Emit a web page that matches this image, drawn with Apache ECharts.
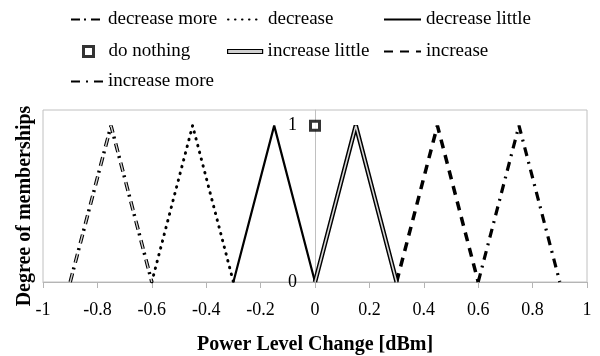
<!DOCTYPE html>
<html><head><meta charset="utf-8">
<script src="https://cdn.jsdelivr.net/npm/echarts@6/dist/echarts.min.js"></script>
<style>html,body{margin:0;padding:0;background:#fff}#c{width:600px;height:356px}</style>
</head><body><div id="c"></div>
<script>
// Data
const decreaseMoreX = [-0.9, -0.75, -0.6];
const decreaseMoreY = [0, 1, 0];
const decreaseX = [-0.6, -0.45, -0.3];
const decreaseY = [0, 1, 0];
const decreaseLittleX = [-0.3, -0.15, 0];
const decreaseLittleY = [0, 1, 0];
const doNothingX = [0];
const doNothingY = [1];
const increaseLittleX = [0, 0.15, 0.3];
const increaseLittleY = [0, 1, 0];
const increaseX = [0.3, 0.45, 0.6];
const increaseY = [0, 1, 0];
const increaseMoreX = [0.6, 0.75, 0.9];
const increaseMoreY = [0, 1, 0];
const yTickLabels = ['0', '1'];

const zip = (xs, ys) => xs.map((x, i) => [x, ys[i]]);
const FONT = 'Liberation Serif';

const chart = echarts.init(document.getElementById('c'), null, {renderer: 'canvas'});

function line(name, xs, ys, ls, z) {
  return {type: 'line', name: name, data: zip(xs, ys), symbol: 'none', z: z || 2,
    lineStyle: Object.assign({color: '#000', width: 2}, ls), itemStyle: {color: ls.color || '#000'},
    silent: true, animation: false};
}

// [name, left, top, itemWidth]
const legendPos = [
  ['decrease more', 65, 5, 32], ['decrease', 222, 5, 35], ['decrease little', 378, 5, 37],
  ['do nothing', 77, 37, 10], ['increase little', 222, 37, 35], ['increase', 378, 37, 37],
  ['increase more', 65, 67, 32]
];

const GRID_W = 600 - 43 - 13;

const option = {
  animation: false,
  grid: {left: 43, right: 13, top: 110, bottom: 73, show: true, borderColor: '#c0c0c0', borderWidth: 1},
  legend: legendPos.map(p => {
    const name = p[0];
    const isMarker = name === 'do nothing';
    const isDouble = name === 'increase little';
    const lg = {
      data: [isDouble ? {name: name, icon: 'rect'} : name], left: p[1], top: p[2], itemWidth: p[3],
      itemHeight: isMarker ? 10 : 12,
      itemStyle: isMarker ? {color: '#fff', borderColor: '#000', borderWidth: 3}
                          : {color: 'rgba(0,0,0,0)', borderWidth: 0},
      textStyle: {fontFamily: FONT, fontSize: 19, color: '#000', padding: isMarker ? [0, 0, 0, 10] : 0},
      selectedMode: false
    };
    if (isDouble) {
      lg.itemHeight = 4;
      lg.itemStyle = {color: '#d0d0d0', borderColor: '#000', borderWidth: 1.2};
    }
    return lg;
  }),
  xAxis: {
    type: 'value', min: -1, max: 1, interval: 0.2,
    name: 'Power Level Change [dBm]', nameLocation: 'middle', nameGap: 53,
    nameTextStyle: {fontFamily: FONT, fontWeight: 'bold', fontSize: 20, color: '#000'},
    axisLine: {show: true, lineStyle: {color: '#b5b5b5'}},
    axisTick: {show: true, length: 6, lineStyle: {color: '#b5b5b5'}},
    axisLabel: {fontFamily: FONT, fontSize: 18, color: '#000', margin: 19,
      formatter: v => String(Math.round(v * 10) / 10)},
    splitLine: {show: false}
  },
  yAxis: [{
    type: 'value', min: 0, max: 1.1, interval: 1, position: 'left', offset: -GRID_W / 2,
    axisLine: {show: true, onZero: false, lineStyle: {color: '#c0c0c0'}},
    axisTick: {show: false},
    axisLabel: {fontFamily: FONT, fontSize: 18, color: '#000', margin: 18,
      formatter: v => { const i = Math.round(v); return Math.abs(v - i) < 1e-6 ? yTickLabels[i] : ''; }},
    splitLine: {show: false}
  }, {
    type: 'value', min: 0, max: 1.1, position: 'left', offset: 0,
    name: 'Degree of memberships', nameLocation: 'middle', nameGap: 8,
    nameTextStyle: {fontFamily: FONT, fontWeight: 'bold', fontSize: 20, color: '#000', padding: [0, 20, 0, 0]},
    axisLine: {show: false}, axisTick: {show: false}, axisLabel: {show: false}, splitLine: {show: false}
  }],
  series: [
    line('decrease more', decreaseMoreX, decreaseMoreY, {width: 3.5, type: [9, 4, 2, 5], color: '#000'}),
    line('', decreaseMoreX, decreaseMoreY, {width: 1.4, type: [9, 11], color: '#cfcfcf'}, 3),
    line('decrease', decreaseX, decreaseY, {width: 3, type: [0.5, 6.5], cap: 'round', color: '#000'}),
    line('decrease little', decreaseLittleX, decreaseLittleY, {width: 2.2, color: '#000'}),
    {type: 'scatter', name: 'do nothing', data: zip(doNothingX, doNothingY), symbol: 'rect', symbolSize: 9,
      itemStyle: {color: '#fff', borderColor: '#000', borderWidth: 3}, z: 5, silent: true},
    line('increase little', increaseLittleX, increaseLittleY, {width: 4.5, color: '#000'}),
    line('', increaseLittleX, increaseLittleY, {width: 1.6, color: '#d8d8d8'}, 3),
    line('increase', increaseX, increaseY, {width: 3.5, type: [9, 7], color: '#000'}),
    line('increase more', increaseMoreX, increaseMoreY, {width: 3.2, type: [9, 6, 2, 6], color: '#000'})
  ]
};
chart.setOption(option);
</script>
</body></html>
